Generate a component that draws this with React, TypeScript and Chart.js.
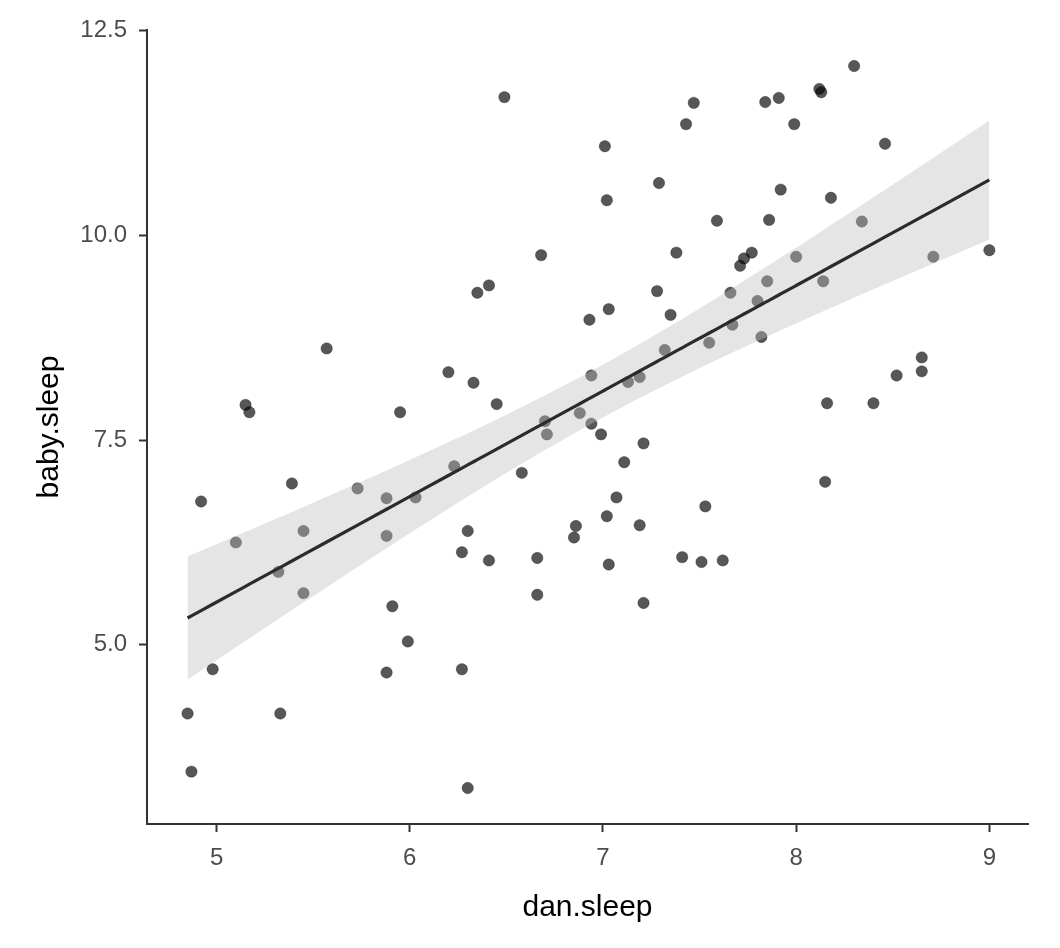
import { useEffect, useRef } from 'react'
import { Chart, registerables } from 'chart.js'

Chart.register(...registerables)

// parenthood data: dan.sleep vs baby.sleep
const danSleep = [
  4.85, 4.87, 4.92, 4.98, 5.10, 5.15, 5.17, 5.32, 5.33, 5.39,
  5.45, 5.45, 5.57, 5.73, 5.88, 5.88, 5.88, 5.91, 5.95, 5.99,
  6.03, 6.20, 6.23, 6.27, 6.27, 6.30, 6.30, 6.33, 6.35, 6.41,
  6.41, 6.45, 6.49, 6.58, 6.66, 6.66, 6.68, 6.70, 6.71, 6.85,
  6.86, 6.88, 6.93, 6.94, 6.94, 6.99, 7.01, 7.02, 7.02, 7.03,
  7.03, 7.07, 7.11, 7.13, 7.19, 7.19, 7.21, 7.21, 7.28, 7.29,
  7.32, 7.35, 7.38, 7.41, 7.43, 7.47, 7.51, 7.53, 7.55, 7.59,
  7.62, 7.66, 7.67, 7.71, 7.73, 7.77, 7.80, 7.82, 7.84, 7.85,
  7.86, 7.91, 7.92, 7.99, 8.00, 8.12, 8.13, 8.14, 8.15, 8.16,
  8.18, 8.30, 8.34, 8.40, 8.46, 8.52, 8.65, 8.65, 8.71, 9.00,
]
const babySleep = [
  4.16, 3.45, 6.75, 4.70, 6.25, 7.93, 7.84, 5.89, 4.16, 6.97,
  6.39, 5.63, 8.62, 6.91, 6.79, 6.33, 4.66, 5.47, 7.84, 5.04,
  6.80, 8.33, 7.18, 6.13, 4.70, 6.39, 3.25, 8.20, 9.30, 9.39,
  6.03, 7.94, 11.69, 7.10, 5.61, 6.06, 9.76, 7.73, 7.57, 6.31,
  6.45, 7.83, 8.97, 7.70, 8.29, 7.57, 11.09, 10.43, 6.57, 5.98,
  9.10, 6.80, 7.23, 8.21, 8.27, 6.46, 7.46, 5.51, 9.32, 10.64,
  8.60, 9.03, 9.79, 6.07, 11.36, 11.62, 6.01, 6.69, 8.69, 10.18,
  6.03, 9.30, 8.91, 9.63, 9.72, 9.79, 9.20, 8.76, 11.63, 9.44,
  10.19, 11.68, 10.56, 11.36, 9.74, 11.79, 11.75, 9.44, 6.99, 7.95,
  10.46, 12.07, 10.17, 7.95, 11.12, 8.29, 8.51, 8.34, 9.74, 9.82,
]

const xTicks = [5, 6, 7, 8, 9]
const yTicks = [5.0, 7.5, 10.0, 12.5]
const xLimits = [4.64, 9.2]
const yLimits = [2.81, 12.51]

const FONT = '"Liberation Sans", Arial, sans-serif'

// geom_smooth(method = "lm"): least-squares fit with a 95% band,
// evaluated at the observed dan.sleep values
function lmFit(xs: number[], ys: number[]) {
  const n = xs.length
  const mx = xs.reduce((s, v) => s + v, 0) / n
  const my = ys.reduce((s, v) => s + v, 0) / n
  let sxx = 0
  let sxy = 0
  for (let i = 0; i < n; i++) {
    sxx += (xs[i] - mx) ** 2
    sxy += (xs[i] - mx) * (ys[i] - my)
  }
  const b = sxy / sxx
  const a = my - b * mx
  let rss = 0
  for (let i = 0; i < n; i++) rss += (ys[i] - a - b * xs[i]) ** 2
  const s = Math.sqrt(rss / (n - 2))
  const t = 1.9845 // qt(0.975, 98)
  return [...xs].sort((p, q) => p - q).map((x) => {
    const fit = a + b * x
    const se = s * Math.sqrt(1 / n + (x - mx) ** 2 / sxx)
    return { x, fit, lo: fit - t * se, hi: fit + t * se }
  })
}

export default function App() {
  const canvasRef = useRef<HTMLCanvasElement>(null)
  const chartRef = useRef<Chart | null>(null)

  useEffect(() => {
    if (!canvasRef.current) return
    const fit = lmFit(danSleep, babySleep)

    chartRef.current = new Chart(canvasRef.current, {
      type: 'scatter',
      data: {
        datasets: [
          {
            data: danSleep.map((x, i) => ({ x, y: babySleep[i] })),
            backgroundColor: 'rgba(0,0,0,0.66)',
            borderColor: 'rgba(0,0,0,0.3)',
            borderWidth: 1,
            pointRadius: 5.7,
            order: 4,
          },
          {
            type: 'line',
            data: fit.map((p) => ({ x: p.x, y: p.lo })),
            borderWidth: 0,
            borderColor: 'transparent',
            pointRadius: 0,
            fill: false,
            order: 3,
          },
          {
            type: 'line',
            data: fit.map((p) => ({ x: p.x, y: p.hi })),
            borderWidth: 0,
            borderColor: 'transparent',
            backgroundColor: 'rgba(191,191,191,0.4)',
            pointRadius: 0,
            fill: '-1',
            order: 2,
          },
          {
            type: 'line',
            data: fit.map((p) => ({ x: p.x, y: p.fit })),
            borderColor: '#2b2b2b',
            borderWidth: 3.2,
            pointRadius: 0,
            fill: false,
            order: 1,
          },
        ],
      },
      options: {
        responsive: false,
        maintainAspectRatio: false,
        animation: false,
        layout: { padding: { top: 30, right: 32, bottom: 0, left: 0 } },
        plugins: {
          legend: { display: false },
          tooltip: { enabled: false },
          filler: { drawTime: 'beforeDatasetDraw' },
        },
        scales: {
          x: {
            type: 'linear',
            min: xLimits[0],
            max: xLimits[1],
            afterBuildTicks: (axis) => { axis.ticks = xTicks.map((value) => ({ value })) },
            afterFit: (axis) => { axis.height = 124 },
            grid: {
              display: true,
              drawOnChartArea: false,
              drawTicks: true,
              tickLength: 8,
              tickWidth: 2,
              tickColor: '#333333',
            },
            border: { display: true, color: '#333333', width: 2 },
            ticks: {
              color: '#4d4d4d',
              font: { family: FONT, size: 24 },
              padding: 12,
              maxRotation: 0,
              callback: (v) => String(v),
            },
            title: {
              display: true,
              text: 'dan.sleep',
              color: '#000000',
              font: { family: FONT, size: 30 },
              padding: { top: 0, bottom: 22 },
            },
          },
          y: {
            type: 'linear',
            min: yLimits[0],
            max: yLimits[1],
            afterBuildTicks: (axis) => { axis.ticks = yTicks.map((value) => ({ value })) },
            afterFit: (axis) => { axis.width = 147 },
            grid: {
              display: true,
              drawOnChartArea: false,
              drawTicks: true,
              tickLength: 8,
              tickWidth: 2,
              tickColor: '#333333',
            },
            border: { display: true, color: '#333333', width: 2 },
            ticks: {
              color: '#4d4d4d',
              font: { family: FONT, size: 24 },
              padding: 12,
              callback: (v) => Number(v).toFixed(1),
            },
            title: {
              display: true,
              text: 'baby.sleep',
              color: '#000000',
              font: { family: FONT, size: 30 },
              padding: { top: 32, bottom: 0 },
            },
          },
        },
      },
    })

    return () => {
      chartRef.current?.destroy()
      chartRef.current = null
    }
  }, [])

  return (
    <div style={{ position: 'fixed', left: 0, top: 0, width: 1060, height: 948, background: '#ffffff' }}>
      <canvas ref={canvasRef} width={1060} height={948} />
    </div>
  )
}
